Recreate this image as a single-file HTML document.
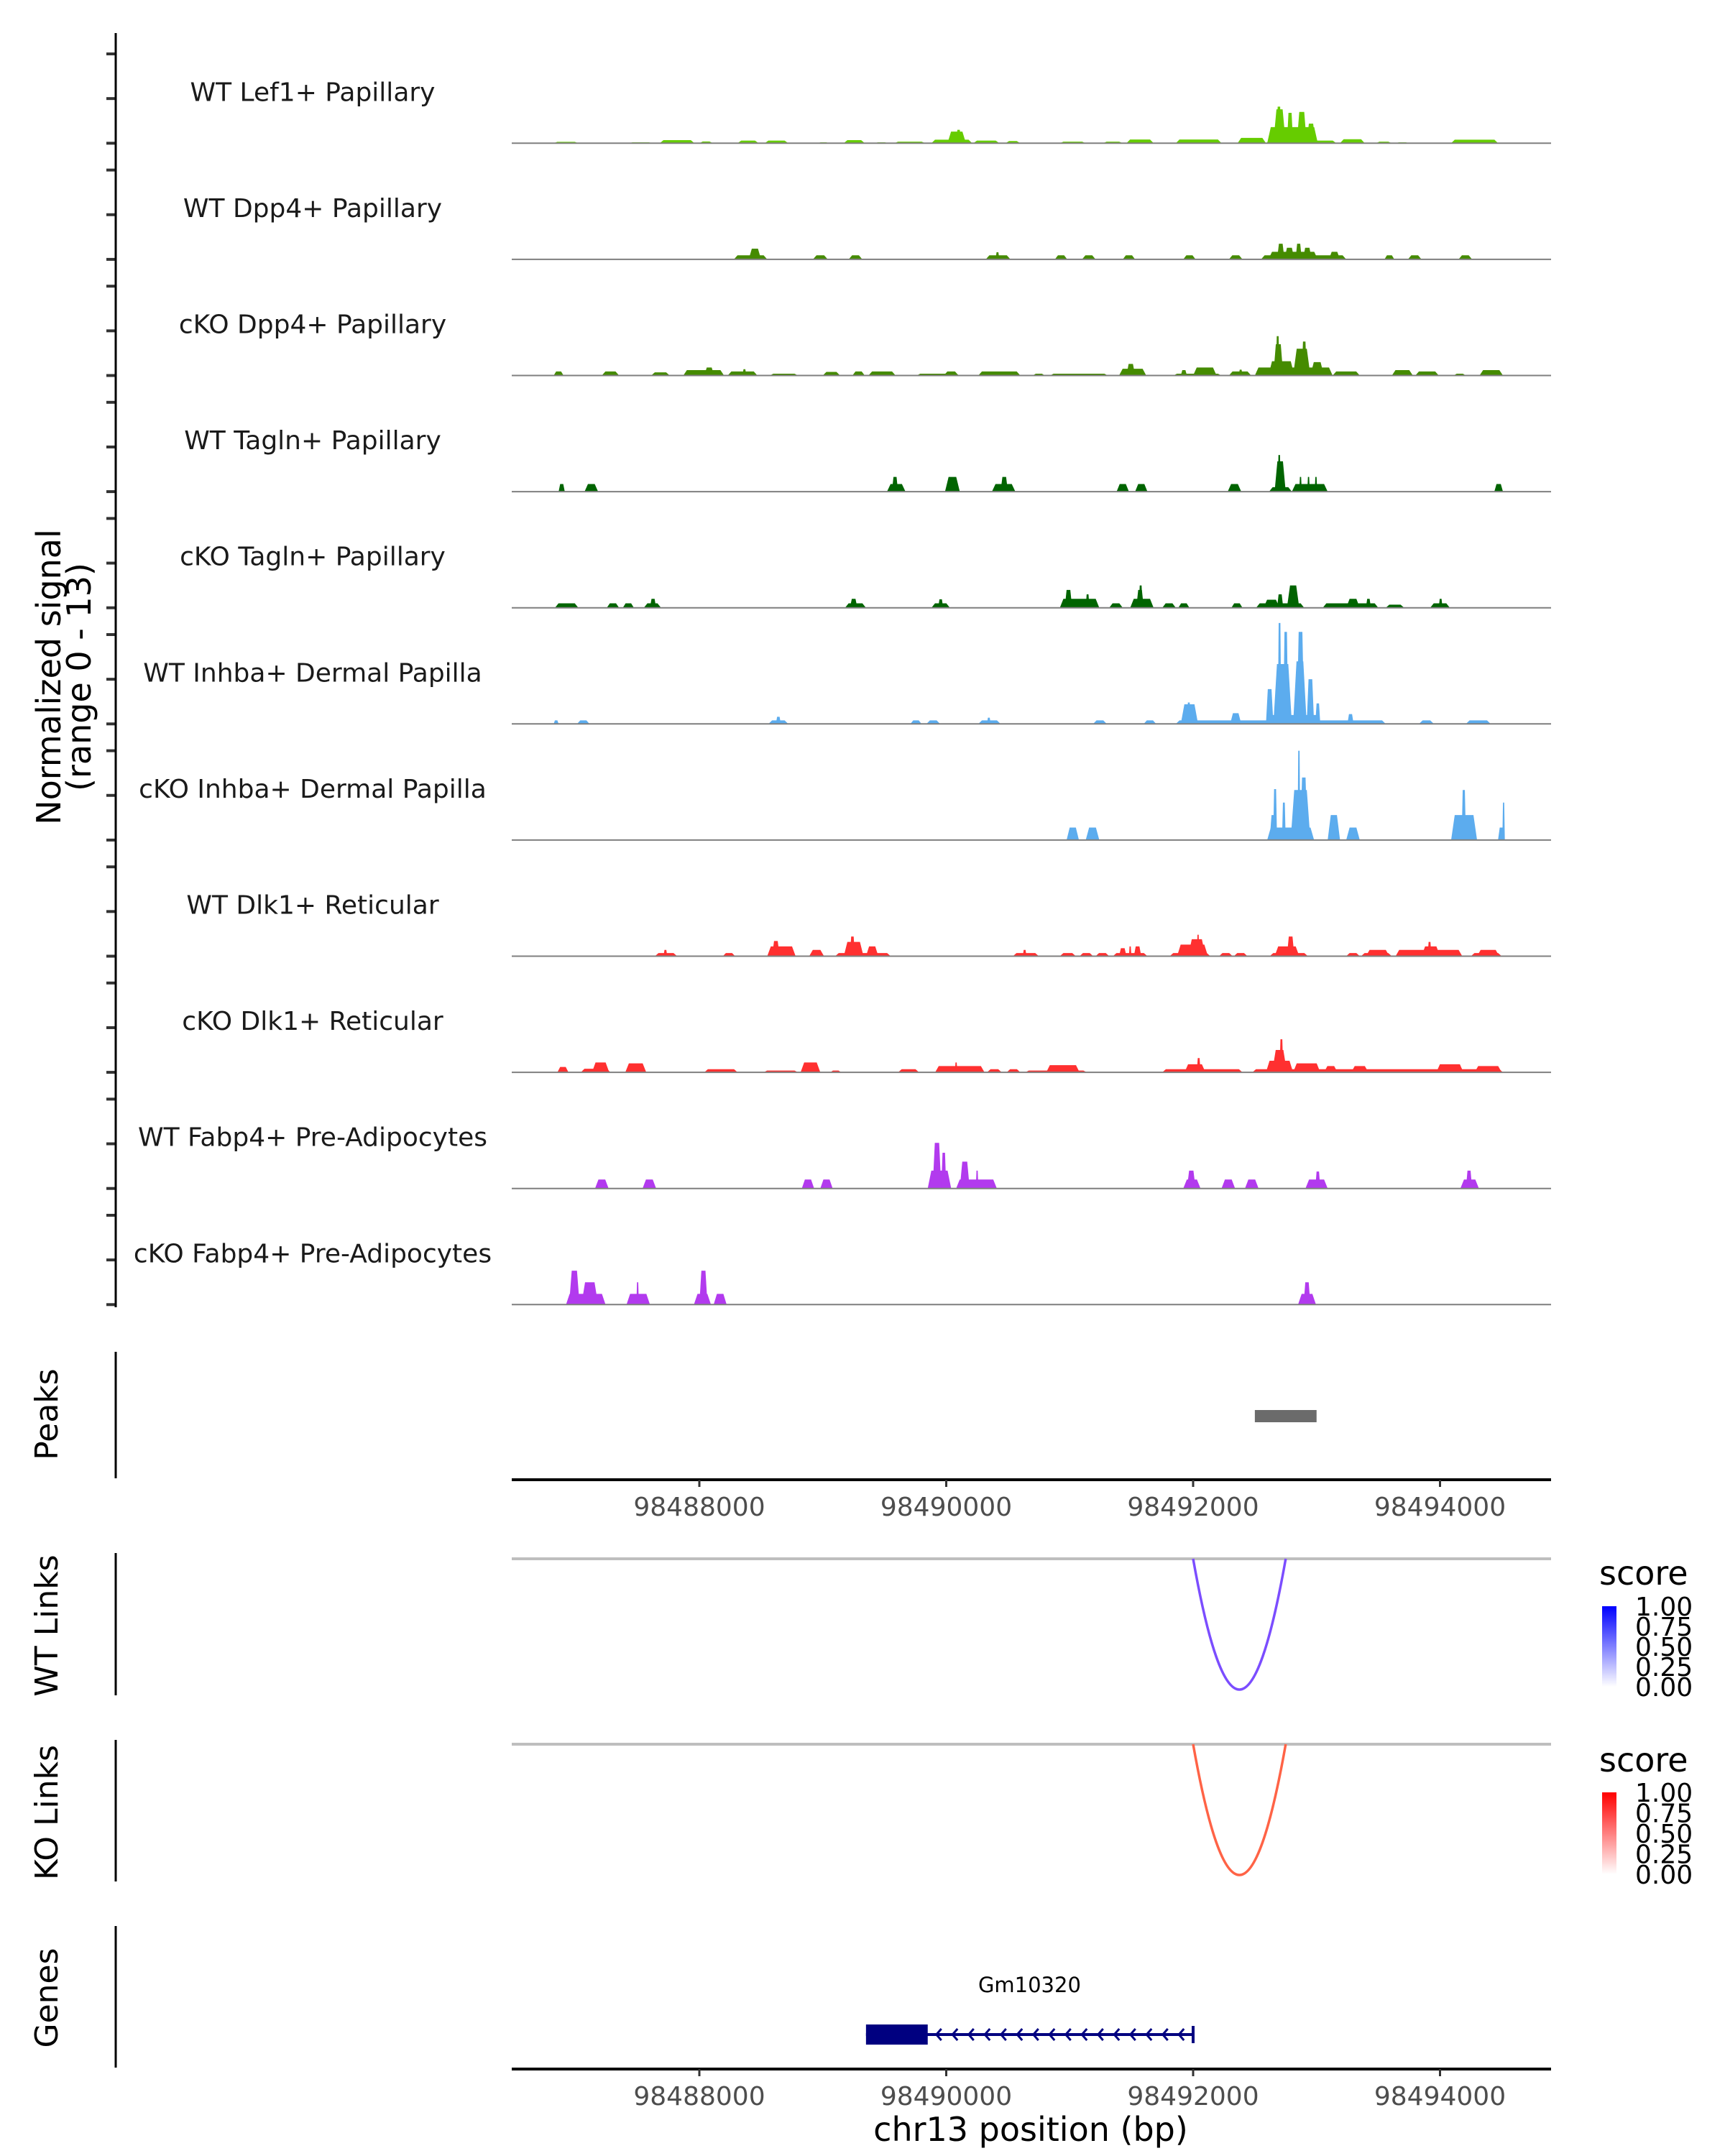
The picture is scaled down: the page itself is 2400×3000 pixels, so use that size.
<!DOCTYPE html>
<html><head><meta charset="utf-8"><style>
html,body{margin:0;padding:0;background:#fff}
svg{display:block}
text{font-family:"DejaVu Sans","Liberation Sans",sans-serif}
</style></head><body>
<svg id="chart" width="2400" height="3000" viewBox="0 0 2400 3000" xmlns="http://www.w3.org/2000/svg">
<g id="tracks"></g>
<g id="axes"></g>
</svg>
<script>
// ---- data ----
const trackNames = ["WT Lef1+ Papillary","WT Dpp4+ Papillary","cKO Dpp4+ Papillary","WT Tagln+ Papillary","cKO Tagln+ Papillary","WT Inhba+ Dermal Papilla","cKO Inhba+ Dermal Papilla","WT Dlk1+ Reticular","cKO Dlk1+ Reticular","WT Fabp4+ Pre-Adipocytes","cKO Fabp4+ Pre-Adipocytes"];
const trackColors = ["#66cc00","#458b00","#458b00","#006400","#006400","#5cacee","#5cacee","#ff3030","#ff3030","#b23aee","#b23aee"];
const xTicks = [98488000,98490000,98492000,98494000];
const yTicks = [0,5,10];
// signal bumps per track: [start bp, end bp, normalized signal]
const lef1WT = [[98486820,98487020,0.15],[98487430,98487620,0.1],[98487680,98487960,0.35],[98488000,98488110,0.2],[98488310,98488480,0.3],[98488530,98488720,0.3],[98488960,98489050,0.1],[98489170,98489340,0.35],[98489420,98489530,0.1],[98489580,98489830,0.18],[98489880,98490210,0.4],[98490010,98490160,1.3],[98490080,98490120,1.5],[98490220,98490430,0.3],[98490480,98490600,0.25],[98490920,98491130,0.18],[98491270,98491430,0.18],[98491460,98491680,0.42],[98491860,98492230,0.42],[98492360,98492590,0.6],[98492590,98493160,0.3],[98492600,98493010,1.8],[98492650,98492750,3.8],[98492675,98492715,4.1],[98492760,98492810,3.4],[98492840,98492920,3.5],[98492920,98492990,2.2],[98493190,98493390,0.45],[98493480,98493610,0.18],[98493640,98493750,0.1],[98494090,98494470,0.4]];
const dpp4WT = [[98488280,98488550,0.45],[98488400,98488500,1.2],[98488920,98489040,0.45],[98489210,98489320,0.45],[98490320,98490520,0.45],[98490400,98490430,0.8],[98490880,98490980,0.45],[98491100,98491210,0.45],[98491430,98491530,0.45],[98491920,98492020,0.45],[98492290,98492400,0.45],[98492550,98493240,0.45],[98492610,98493010,0.85],[98492680,98492740,1.75],[98492740,98492820,1.3],[98492830,98492880,1.75],[98492890,98492960,1.3],[98493100,98493190,0.85],[98493550,98493630,0.45],[98493740,98493850,0.45],[98494150,98494260,0.45]];
const dpp4KO = [[98486820,98486900,0.45],[98487210,98487350,0.45],[98487610,98487760,0.35],[98487870,98488200,0.6],[98488040,98488120,0.9],[98488230,98488470,0.45],[98488350,98488380,0.7],[98488570,98488800,0.2],[98489000,98489140,0.4],[98489240,98489340,0.45],[98489370,98489590,0.45],[98489760,98490110,0.2],[98489980,98490100,0.45],[98490260,98490600,0.45],[98490700,98490800,0.2],[98490840,98491310,0.2],[98491400,98491620,0.75],[98491460,98491530,1.3],[98491840,98492230,0.2],[98491900,98491950,0.6],[98492000,98492190,0.9],[98492290,98492470,0.45],[98492370,98492400,0.65],[98492500,98493130,0.9],[98492610,98492820,1.6],[98492650,98492730,3.5],[98492670,98492700,4.4],[98492810,98492950,3.0],[98492880,98492920,3.8],[98492950,98493060,1.5],[98493130,98493350,0.45],[98493610,98493780,0.6],[98493800,98493990,0.45],[98494110,98494210,0.2],[98494320,98494510,0.6]];
const taglnWT = [[98486860,98486910,0.85],[98487070,98487180,0.85],[98489520,98489670,0.85],[98489560,98489610,1.65],[98489990,98490110,1.65],[98490370,98490560,0.85],[98490440,98490500,1.65],[98491380,98491480,0.85],[98491530,98491630,0.85],[98492280,98492390,0.85],[98492615,98492800,0.5],[98492660,98492750,3.4],[98492685,98492710,4.1],[98492800,98493090,0.85],[98492860,98492880,1.65],[98492925,98492945,1.65],[98492985,98493005,1.65],[98494440,98494510,0.85]];
const taglnKO = [[98486830,98487020,0.5],[98487250,98487350,0.5],[98487380,98487470,0.5],[98487550,98487690,0.5],[98487600,98487650,1.0],[98489180,98489350,0.5],[98489220,98489280,1.0],[98489880,98490030,0.5],[98489935,98489975,0.95],[98490920,98491240,1.0],[98490960,98491020,2.0],[98491130,98491160,1.5],[98491320,98491430,0.5],[98491490,98491680,1.0],[98491540,98491600,2.0],[98491560,98491590,2.5],[98491750,98491860,0.5],[98491880,98491970,0.5],[98492310,98492400,0.5],[98492510,98492900,0.5],[98492570,98492700,0.9],[98492680,98492730,1.5],[98492760,98492860,2.5],[98493050,98493500,0.5],[98493240,98493350,1.0],[98493400,98493440,1.0],[98493560,98493710,0.35],[98493920,98494080,0.5],[98493990,98494020,1.0]];
const inhbaWT = [[98486820,98486860,0.4],[98487010,98487110,0.4],[98488560,98488720,0.4],[98488620,98488660,0.8],[98489710,98489800,0.4],[98489840,98489950,0.4],[98490260,98490440,0.4],[98490330,98490360,0.7],[98491190,98491300,0.4],[98491600,98491700,0.4],[98491860,98493560,0.4],[98491900,98492040,2.2],[98491950,98491980,2.4],[98492300,98492390,1.2],[98492590,98493030,1.0],[98492590,98492650,3.9],[98492650,98492800,6.7],[98492686,98492714,11.3],[98492730,98492770,10.3],[98492810,98492920,7.0],[98492840,98492900,10.3],[98492920,98492980,5.0],[98492990,98493030,2.3],[98493250,98493300,1.1],[98493830,98493950,0.4],[98494210,98494410,0.4]];
const inhbaKO = [[98490975,98491075,1.4],[98491130,98491240,1.4],[98492600,98492980,1.4],[98492620,98492680,2.8],[98492648,98492680,5.7],[98492720,98492750,4.2],[98492790,98492950,5.6],[98492846,98492868,10.0],[98492868,98492925,7.0],[98493090,98493190,2.8],[98493240,98493350,1.4],[98494090,98494300,2.8],[98494175,98494210,5.6],[98494470,98494525,1.4],[98494505,98494525,4.2]];
const dlk1WT = [[98487640,98487820,0.35],[98487710,98487740,0.7],[98488190,98488290,0.35],[98488550,98488780,1.1],[98488590,98488650,1.7],[98488890,98489010,0.7],[98489100,98489550,0.35],[98489170,98489330,1.6],[98489220,98489260,2.2],[98489350,98489450,1.1],[98490540,98490750,0.35],[98490620,98490650,0.7],[98490920,98491050,0.35],[98491080,98491190,0.35],[98491210,98491320,0.35],[98491350,98491630,0.35],[98491400,98491460,0.9],[98491480,98491500,1.1],[98491520,98491580,1.1],[98491810,98492140,0.35],[98491870,98492120,1.3],[98491960,98492100,1.9],[98492030,98492050,2.4],[98492210,98492320,0.35],[98492330,98492440,0.35],[98492620,98492930,0.35],[98492660,98492860,1.1],[98492760,98492820,2.2],[98493240,98493350,0.35],[98493360,98493610,0.35],[98493400,98493590,0.7],[98493640,98494180,0.7],[98493850,98494000,1.1],[98493900,98493930,1.6],[98494250,98494500,0.35],[98494300,98494480,0.7]];
const dlk1KO = [[98486850,98486940,0.6],[98487040,98487280,0.4],[98487130,98487270,1.1],[98487400,98487570,1.0],[98488040,98488310,0.35],[98488520,98488800,0.2],[98488820,98488980,1.1],[98489060,98489150,0.2],[98489610,98489780,0.35],[98489910,98490310,0.7],[98490070,98490090,1.1],[98490330,98490450,0.35],[98490490,98490600,0.35],[98490640,98491140,0.2],[98490810,98491080,0.8],[98491750,98492400,0.35],[98491930,98492100,0.9],[98492030,98492060,1.6],[98492480,98494510,0.35],[98492590,98492810,1.3],[98492640,98492760,2.5],[98492700,98492730,3.7],[98492810,98493030,1.0],[98493060,98493170,0.7],[98493280,98493420,0.7],[98493970,98494190,0.9],[98494280,98494500,0.7]];
const fabp4WT = [[98487155,98487265,1.0],[98487540,98487650,1.0],[98488830,98488930,1.0],[98488980,98489080,1.0],[98489850,98490040,2.0],[98489890,98489960,5.1],[98489960,98490000,4.0],[98490080,98490410,1.0],[98490110,98490190,3.0],[98490240,98490260,2.0],[98491920,98492060,1.0],[98491950,98492020,2.0],[98492230,98492340,1.0],[98492420,98492530,1.0],[98492910,98493090,1.0],[98492990,98493030,1.9],[98494165,98494315,1.0],[98494210,98494260,2.0]];
const fabp4KO = [[98486920,98487240,1.2],[98486945,98487030,3.8],[98487045,98487180,2.5],[98487410,98487600,1.2],[98487490,98487510,2.5],[98487956,98488094,1.2],[98488000,98488066,3.8],[98488116,98488221,1.2],[98492850,98492995,1.2],[98492895,98492950,2.5]];
const trackData = [lef1WT,dpp4WT,dpp4KO,taglnWT,taglnKO,inhbaWT,inhbaKO,dlk1WT,dlk1KO,fabp4WT,fabp4KO];
const peakRegions = [[98492500,98493000]];
const wtLinks = [[98492000,98492750,0.7]];
const koLinks = [[98492000,98492750,0.7]];
const geneStart = 98489350, geneEnd = 98492000, exonStart = 98489350, exonEnd = 98489850;
const geneName = "Gm10320";
const legendTicks = ["1.00","0.75","0.50","0.25","0.00"];

// ---- scales ----
const X0 = 712, X1 = 2158;
function xs(bp){ return 973 + (bp - 98488000) * 0.17175; }
const BASE0 = 199.3, TRACK_H = 161.6, UNIT = 12.43;
function ys(i, v){ return BASE0 + i*TRACK_H - v*UNIT; }

const NS = "http://www.w3.org/2000/svg";
function mk(tag, attrs, parent){ const e=document.createElementNS(NS,tag); for(const k in attrs) e.setAttribute(k,attrs[k]); parent.appendChild(e); return e; }
const tracks = document.getElementById('tracks');
const axes = document.getElementById('axes');

trackData.forEach((bumps, i) => {
  const g = mk('g', {}, tracks);
  
  
  const b = ys(i, 0);
  const lbl = mk('text', {x:435, y:b-59, 'font-size':36, 'text-anchor':'middle', fill:'#1a1a1a'}, g);
  lbl.textContent = trackNames[i];
  
  
  bumps.forEach(([s, e, v]) => {
    const x0 = xs(s), x1 = xs(e);
    const r = Math.min(5, (x1-x0)/4);
    const yt = ys(i, v);
    const p = mk('polygon', {points:`${x0},${b} ${x0+r},${yt} ${x1-r},${yt} ${x1},${b}`, fill:trackColors[i]}, g);
    
    
  });
  const bl = mk('line', {x1:X0, x2:X1, y1:b, y2:b, stroke:'#7f7f7f', 'stroke-width':2}, g);
  
  
  yTicks.forEach(t => {
    const tk = mk('line', {x1:148, x2:161, y1:ys(i,t), y2:ys(i,t), stroke:'#333', 'stroke-width':4}, axes);
    
    
  });
});

// signal y axis
let e = mk('line', {x1:161, x2:161, y1:46, y2:1819, stroke:'#000', 'stroke-width':3}, axes);


e = mk('text', {transform:'translate(84,942) rotate(-90)', 'font-size':46, 'text-anchor':'middle', fill:'#000'}, axes);
e.textContent = 'Normalized signal';


e = mk('text', {transform:'translate(126,942) rotate(-90)', 'font-size':46, 'text-anchor':'middle', fill:'#000'}, axes);
e.textContent = '(range 0 - 13)';



// panel side axes and titles
const panels = [["Peaks",1881,2057,1968],["WT Links",2161,2359,2262],["KO Links",2421,2618,2522],["Genes",2680,2877,2780]];
panels.forEach(([name, y0, y1, yc]) => {
  let l = mk('line', {x1:161, x2:161, y1:y0, y2:y1, stroke:'#000', 'stroke-width':3}, axes);
  
  
  let t = mk('text', {transform:`translate(80,${yc}) rotate(-90)`, 'font-size':44, 'text-anchor':'middle', fill:'#000'}, axes);
  t.textContent = name;
  
  
});

// peaks
peakRegions.forEach(([s, en]) => {
  const r = mk('rect', {x:xs(s), y:1962, width:xs(en)-xs(s), height:17, fill:'#6b6b6b'}, axes);
  
  
});

// x axes
function xAxis(y, nm){
  const l = mk('line', {x1:X0, x2:X1, y1:y, y2:y, stroke:'#000', 'stroke-width':4}, axes);
  
  
  xTicks.forEach(t => {
    const tk = mk('line', {x1:xs(t), x2:xs(t), y1:y, y2:y+10, stroke:'#333', 'stroke-width':3}, axes);
    
    
    const tl = mk('text', {x:xs(t), y:y+50, 'font-size':36, 'text-anchor':'middle', fill:'#4d4d4d'}, axes);
    tl.textContent = t;
    
    
  });
}
xAxis(2059, 'peaks-x-axis');
xAxis(2879, 'genes-x-axis');
e = mk('text', {x:1434, y:2979, 'font-size':46, 'text-anchor':'middle', fill:'#000'}, axes);
e.textContent = 'chr13 position (bp)';



// links
function linkPanel(links, yTop, color, nm){
  const gl = mk('line', {x1:X0, x2:X1, y1:yTop, y2:yTop, stroke:'#bebebe', 'stroke-width':4}, axes);
  
  
  links.forEach(([s, en, sc]) => {
    const a = xs(s), b = xs(en), d = 182 * 2;
    const p = mk('path', {d:`M${a},${yTop} Q${(a+b)/2},${yTop+d} ${b},${yTop}`, fill:'none', stroke:color, 'stroke-width':3.5, 'stroke-opacity':Math.min(1, 0.3+sc)}, axes);
    
    
  });
}
linkPanel(wtLinks, 2169, '#7b4dff', 'wt-link');
linkPanel(koLinks, 2427, '#ff6346', 'ko-link');

// legends
function legend(yTitle, yBar0, yBar1, hi, id, nm){
  const defs = mk('defs', {}, axes);
  const lg = mk('linearGradient', {id:id, x1:0, y1:1, x2:0, y2:0}, defs);
  mk('stop', {offset:0, 'stop-color':'#ffffff'}, lg);
  mk('stop', {offset:1, 'stop-color':hi}, lg);
  let t = mk('text', {x:2225, y:yTitle+15, 'font-size':46, fill:'#000'}, axes);
  t.textContent = 'score';
  
  
  let r = mk('rect', {x:2229, y:yBar0, width:20, height:yBar1-yBar0, fill:`url(#${id})`}, axes);
  
  
  legendTicks.forEach((lab, k) => {
    const y = yBar0 + k*(yBar1-yBar0)/(legendTicks.length-1);
    const tl = mk('text', {x:2275, y:y+13, 'font-size':36, fill:'#000'}, axes);
    tl.textContent = lab;
    
    
  });
}
legend(2190, 2235, 2347, '#0000ff', 'gwt', 'wt');
legend(2450, 2494, 2608, '#ff0000', 'gko', 'ko');

// gene
const gy = 2831;
e = mk('line', {x1:xs(geneStart), x2:xs(geneEnd), y1:gy, y2:gy, stroke:'#000080', 'stroke-width':4}, axes);


e = mk('line', {x1:xs(geneEnd), x2:xs(geneEnd), y1:gy-12, y2:gy+12, stroke:'#000080', 'stroke-width':4}, axes);


for (let x = xs(exonEnd)+12; x < xs(geneEnd)-10; x += 22.5) {
  const c = mk('polyline', {points:`${x+7},${gy-8} ${x},${gy} ${x+7},${gy+8}`, fill:'none', stroke:'#000080', 'stroke-width':3}, axes);
  
  
}
e = mk('rect', {x:xs(exonStart), y:gy-14, width:xs(exonEnd)-xs(exonStart), height:28, fill:'#000080'}, axes);


e = mk('text', {x:xs((geneStart+geneEnd)/2), y:2772, 'font-size':29, 'text-anchor':'middle', fill:'#000'}, axes);
e.textContent = geneName;


</script>
</body></html>
